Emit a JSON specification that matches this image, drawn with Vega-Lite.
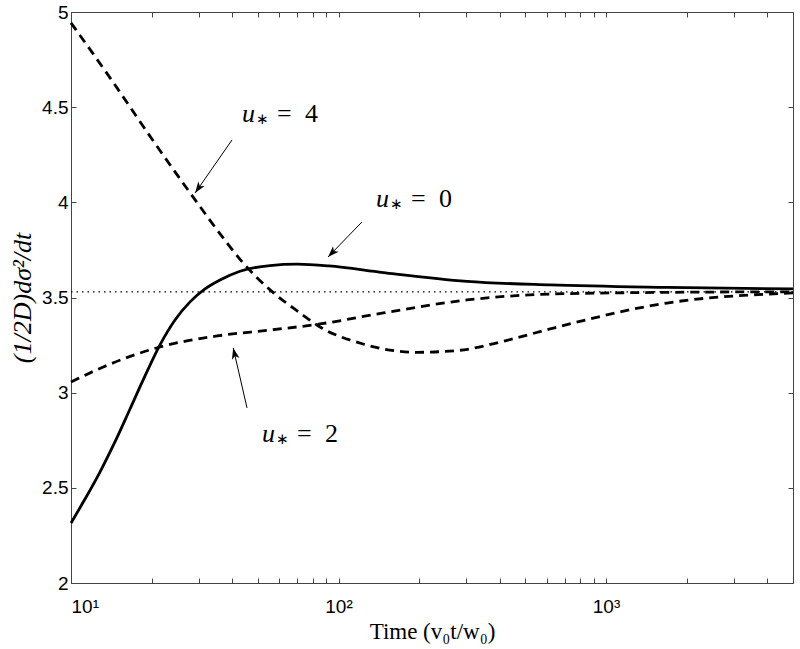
{
  "$schema": "https://vega.github.io/schema/vega-lite/v6.json",
  "width": 722,
  "height": 571,
  "autosize": {"type": "none"},
  "padding": {"left": 71, "top": 12, "right": 7, "bottom": 66},
  "background": "white",
  "config": {
    "view": {"stroke": "#444", "strokeWidth": 1},
    "axis": {"grid": false, "domain": false, "tickColor": "#444", "tickSize": -5, "tickWidth": 1,
      "labelFont": "Liberation Sans", "labelFontSize": 19, "labelColor": "black",
      "titleFont": "Liberation Serif", "titleFontSize": 22, "titleFontWeight": "normal", "titleColor": "black"}
  },
  "datasets": {
    "curves": [
      {"series": "0", "t": 10, "v": 2.315},
      {"series": "0", "t": 11.28, "v": 2.441},
      {"series": "0", "t": 12.83, "v": 2.583},
      {"series": "0", "t": 14.6, "v": 2.741},
      {"series": "0", "t": 16.62, "v": 2.914},
      {"series": "0", "t": 18.91, "v": 3.088},
      {"series": "0", "t": 21.51, "v": 3.251},
      {"series": "0", "t": 24.48, "v": 3.382},
      {"series": "0", "t": 27.86, "v": 3.477},
      {"series": "0", "t": 31.7, "v": 3.545},
      {"series": "0", "t": 36.06, "v": 3.592},
      {"series": "0", "t": 42.83, "v": 3.638},
      {"series": "0", "t": 55.45, "v": 3.668},
      {"series": "0", "t": 70, "v": 3.675},
      {"series": "0", "t": 92, "v": 3.666},
      {"series": "0", "t": 147, "v": 3.631},
      {"series": "0", "t": 302, "v": 3.585},
      {"series": "0", "t": 618, "v": 3.566},
      {"series": "0", "t": 1690, "v": 3.553},
      {"series": "0", "t": 5000, "v": 3.545},
      {"series": "2", "t": 10, "v": 3.056},
      {"series": "2", "t": 13.2, "v": 3.135},
      {"series": "2", "t": 21.5, "v": 3.24},
      {"series": "2", "t": 35.2, "v": 3.298},
      {"series": "2", "t": 55.5, "v": 3.329},
      {"series": "2", "t": 85.3, "v": 3.361},
      {"series": "2", "t": 147, "v": 3.419},
      {"series": "2", "t": 302, "v": 3.487},
      {"series": "2", "t": 618, "v": 3.518},
      {"series": "2", "t": 1690, "v": 3.527},
      {"series": "2", "t": 5000, "v": 3.53},
      {"series": "4", "t": 10, "v": 4.943},
      {"series": "4", "t": 14.0, "v": 4.654},
      {"series": "4", "t": 19.7, "v": 4.349},
      {"series": "4", "t": 27.9, "v": 4.049},
      {"series": "4", "t": 38.3, "v": 3.787},
      {"series": "4", "t": 44.0, "v": 3.682},
      {"series": "4", "t": 55.5, "v": 3.54},
      {"series": "4", "t": 71.8, "v": 3.419},
      {"series": "4", "t": 85.3, "v": 3.345},
      {"series": "4", "t": 120, "v": 3.261},
      {"series": "4", "t": 196, "v": 3.212},
      {"series": "4", "t": 280, "v": 3.222},
      {"series": "4", "t": 427, "v": 3.275},
      {"series": "4", "t": 618, "v": 3.335},
      {"series": "4", "t": 1690, "v": 3.471},
      {"series": "4", "t": 5000, "v": 3.524}
    ],
    "limit": [
      {"t": 10, "v": 3.53},
      {"t": 5000, "v": 3.53}
    ],
    "arrows": [
      {"series": "4", "t0": 40.0, "v0": 4.328, "t1": 29.1, "v1": 4.049},
      {"series": "0", "t0": 122.4, "v0": 3.897, "t1": 91.4, "v1": 3.713},
      {"series": "2", "t0": 45.5, "v0": 2.92, "t1": 40.4, "v1": 3.235}
    ],
    "labels": [
      {"series": "4", "t": 43.6, "v": 4.422, "digit": "4"},
      {"series": "0", "t": 138, "v": 3.976, "digit": "0"},
      {"series": "2", "t": 51.8, "v": 2.741, "digit": "2"}
    ]
  },
  "layer": [
    {
      "layer": [
        {
          "data": {"name": "limit"},
          "mark": {"type": "line", "color": "black", "strokeWidth": 1.3, "strokeDash": [1.5, 4]},
          "encoding": {
            "x": {"field": "t", "type": "quantitative",
              "scale": {"type": "log", "domain": [10, 5000], "nice": false},
              "axis": {"orient": "bottom", "title": "Time (v₀t/w₀)", "titleFontSize": 23, "titlePadding": 4, "labelPadding": 19,
                "values": [10, 20, 30, 40, 50, 60, 70, 80, 90, 100, 200, 300, 400, 500, 600, 700, 800, 900, 1000, 2000, 3000, 4000, 5000],
                "labelExpr": "datum.value == 10 ? '10¹' : datum.value == 100 ? '10²' : datum.value == 1000 ? '10³' : ''"}},
            "y": {"field": "v", "type": "quantitative",
              "scale": {"domain": [2, 5], "nice": false, "zero": false},
              "axis": {"orient": "left", "title": "(1/2D)dσ²/dt", "titleFontStyle": "italic", "titleFontSize": 26, "titlePadding": 6, "labelPadding": 8,
                "values": [2, 2.5, 3, 3.5, 4, 4.5, 5], "format": ".1~f"}}
          }
        },
        {
          "data": {"name": "curves"},
          "transform": [{"filter": "datum.series != '0'"}],
          "mark": {"type": "line", "color": "black", "strokeWidth": 2.8, "strokeDash": [9, 6], "interpolate": "monotone"},
          "encoding": {
            "x": {"field": "t", "type": "quantitative"},
            "y": {"field": "v", "type": "quantitative"},
            "detail": {"field": "series"}
          }
        },
        {
          "data": {"name": "curves"},
          "transform": [{"filter": "datum.series == '0'"}],
          "mark": {"type": "line", "color": "black", "strokeWidth": 2.8, "interpolate": "monotone"},
          "encoding": {
            "x": {"field": "t", "type": "quantitative"},
            "y": {"field": "v", "type": "quantitative"}
          }
        },
        {
          "data": {"name": "arrows"},
          "mark": {"type": "rule", "color": "black", "strokeWidth": 1},
          "encoding": {
            "x": {"field": "t0", "type": "quantitative"},
            "y": {"field": "v0", "type": "quantitative"},
            "x2": {"field": "t1"},
            "y2": {"field": "v1"}
          }
        },
        {
          "data": {"name": "arrows"},
          "transform": [{"filter": "datum.series == '4'"}],
          "mark": {"type": "point", "shape": "M0,0L-0.35,1L0,0.75L0.35,1Z", "filled": true, "color": "black", "opacity": 1, "size": 500, "angle": 215},
          "encoding": {"x": {"field": "t1", "type": "quantitative"}, "y": {"field": "v1", "type": "quantitative"}}
        },
        {
          "data": {"name": "arrows"},
          "transform": [{"filter": "datum.series == '0'"}],
          "mark": {"type": "point", "shape": "M0,0L-0.35,1L0,0.75L0.35,1Z", "filled": true, "color": "black", "opacity": 1, "size": 500, "angle": 224},
          "encoding": {"x": {"field": "t1", "type": "quantitative"}, "y": {"field": "v1", "type": "quantitative"}}
        },
        {
          "data": {"name": "arrows"},
          "transform": [{"filter": "datum.series == '2'"}],
          "mark": {"type": "point", "shape": "M0,0L-0.35,1L0,0.75L0.35,1Z", "filled": true, "color": "black", "opacity": 1, "size": 500, "angle": 347},
          "encoding": {"x": {"field": "t1", "type": "quantitative"}, "y": {"field": "v1", "type": "quantitative"}}
        },
        {
          "data": {"name": "labels"},
          "mark": {"type": "text", "text": "u", "font": "Liberation Serif", "fontStyle": "italic", "fontSize": 26, "align": "left", "baseline": "alphabetic", "color": "black"},
          "encoding": {"x": {"field": "t", "type": "quantitative"}, "y": {"field": "v", "type": "quantitative"}}
        },
        {
          "data": {"name": "labels"},
          "mark": {"type": "text", "text": "∗", "font": "DejaVu Sans", "fontSize": 15, "align": "left", "baseline": "alphabetic", "dx": 14, "dy": 2, "color": "black"},
          "encoding": {"x": {"field": "t", "type": "quantitative"}, "y": {"field": "v", "type": "quantitative"}}
        },
        {
          "data": {"name": "labels"},
          "mark": {"type": "text", "text": "=", "font": "Liberation Serif", "fontSize": 26, "align": "left", "baseline": "alphabetic", "dx": 35, "color": "black"},
          "encoding": {"x": {"field": "t", "type": "quantitative"}, "y": {"field": "v", "type": "quantitative"}}
        },
        {
          "data": {"name": "labels"},
          "mark": {"type": "text", "font": "Liberation Serif", "fontSize": 26, "align": "left", "baseline": "alphabetic", "dx": 63, "color": "black"},
          "encoding": {"x": {"field": "t", "type": "quantitative"}, "y": {"field": "v", "type": "quantitative"}, "text": {"field": "digit"}}
        }
      ]
    },
    {
      "data": {"name": "limit"},
      "mark": {"type": "line", "opacity": 0},
      "encoding": {
        "x": {"field": "t", "type": "quantitative",
          "axis": {"orient": "top", "title": null, "labels": false,
            "values": [10, 20, 30, 40, 50, 60, 70, 80, 90, 100, 200, 300, 400, 500, 600, 700, 800, 900, 1000, 2000, 3000, 4000, 5000]}},
        "y": {"field": "v", "type": "quantitative",
          "axis": {"orient": "right", "title": null, "labels": false, "values": [2, 2.5, 3, 3.5, 4, 4.5, 5]}}
      }
    }
  ],
  "resolve": {"axis": {"x": "independent", "y": "independent"}}
}
